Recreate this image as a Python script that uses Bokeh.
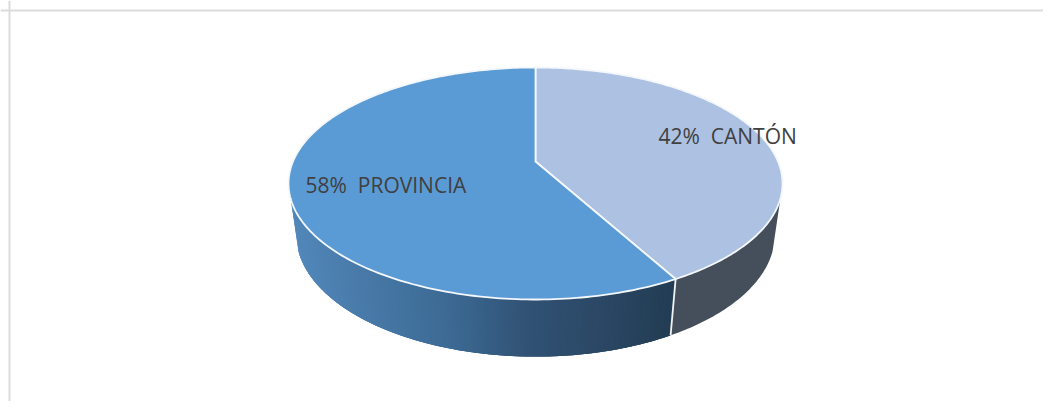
import numpy as np
from bokeh.plotting import figure
from bokeh.models import Range1d, Span
from bokeh.core.properties import value
from bokeh.embed import file_html
from bokeh.resources import INLINE

categories = ["CANTÓN", "PROVINCIA"]
shares = [42, 58]
top_colors = ["#ADC2E2", "#5B9BD5"]
label_texts = ["42%\u00a0 CANTÓN", "58%\u00a0 PROVINCIA"]

# Perspective view of the pie disc, in reference pixels
CX, K, C, A_TOP, A_BOT, B, D = 535.0, 242.5, 0.1897, 161.0, 218.3, -81.3, 0.031
VISIBLE_LIMIT = np.degrees(np.arccos(-0.311))  # rim is visible past this angle


def rim(theta_deg, lower=False):
    t = np.radians(theta_deg)
    u, v = np.sin(t), np.cos(t)
    w = 1 + C * v + (D if lower else 0.0)
    return CX + K * u / w, ((A_BOT if lower else A_TOP) + B * v) / w


p = figure(width=1043, height=401, output_backend="svg", toolbar_location=None,
           x_range=Range1d(0, 1043), y_range=Range1d(401, 0),
           x_axis_type=None, y_axis_type=None, min_border=0,
           background_fill_color="white", border_fill_color="white",
           outline_line_color=None)
p.grid.visible = False

p.add_layout(Span(location=9, dimension="height", line_color="#dcdcdc", line_width=2))
p.add_layout(Span(location=10, dimension="width", line_color="#dcdcdc", line_width=2))

# Slice boundaries, clockwise from 12 o'clock
angles = np.concatenate([[0], np.cumsum(shares) / np.sum(shares) * 360])
split = angles[1]

# Gradient side wall of the PROVINCIA slice
grad_x = [290, 350, 450, 530, 600, 672]
grad_rgb = np.array([[0x52, 0x88, 0xBB], [0x4A, 0x7C, 0xAB], [0x3C, 0x6A, 0x94],
                     [0x31, 0x52, 0x74], [0x2B, 0x48, 0x66], [0x23, 0x3D, 0x54]], float)
th = np.linspace(360 - VISIBLE_LIMIT, split, 161)
xs, ys, fills = [], [], []
for a, b in zip(th[:-1], th[1:]):
    b2 = max(b - 1.2, split)  # overlap the next strip to hide seams
    ax, ay = rim(a); bx, by = rim(b2)
    ax2, ay2 = rim(a, True); bx2, by2 = rim(b2, True)
    xs.append([ax, bx, bx2, ax2]); ys.append([ay, by, by2, ay2])
    mid = (ax + bx) / 2
    c = [np.interp(mid, grad_x, grad_rgb[:, i]) for i in range(3)]
    fills.append("#%02x%02x%02x" % tuple(int(round(k)) for k in c))
p.patches(xs, ys, fill_color=fills, line_color=None)

# Flat side wall of the CANTÓN slice
th2 = np.linspace(split, VISIBLE_LIMIT, 60)
tx, ty = rim(th2); lx, ly = rim(th2[::-1], True)
p.patch(np.r_[tx, lx], np.r_[ty, ly], fill_color="#454F5C", line_color=None)

# White seam between the walls
sx0, sy0 = rim(split); sx1, sy1 = rim(split, True)
p.line([sx0, sx1], [sy0, sy1], line_color="#F2F2F2", line_width=1.8)

# Top faces
for i in range(2):
    arc = np.linspace(angles[i], angles[i + 1], 200)
    ax, ay = rim(arc)
    p.patch(np.r_[CX, ax], np.r_[A_TOP, ay], fill_color=top_colors[i],
            line_color="#F4F7FB", line_width=1.8, line_join="round")

p.text([658, 305], [135, 184], text=label_texts, text_font=value("Open Sans"),
       text_font_size="21px", text_color="#404040", text_baseline="alphabetic",
       text_align="left")

open("out.html", "w").write(file_html(p, INLINE))
